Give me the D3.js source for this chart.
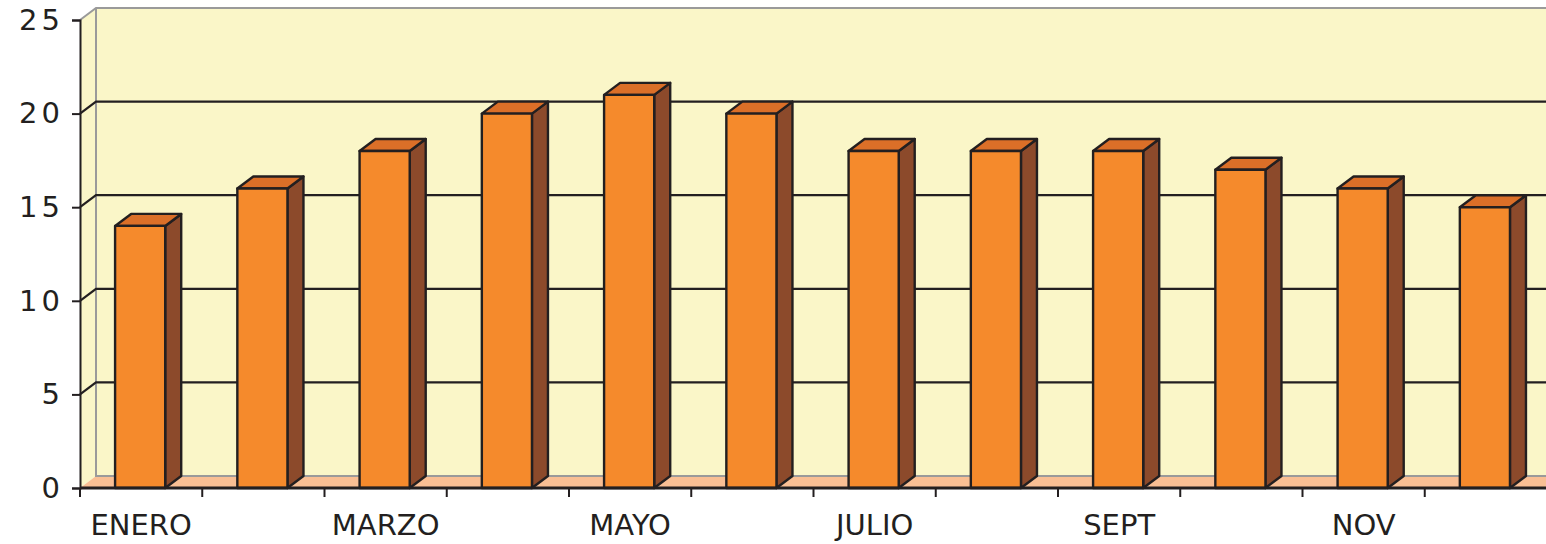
<!DOCTYPE html>
<html>
<head>
<meta charset="utf-8">
<script src="https://cdn.jsdelivr.net/npm/d3@7"></script>
<style>
  body { margin: 0; background: #fff; }
  text { font-family: "DejaVu Sans", sans-serif; fill: #231f20; }
</style>
</head>
<body>
<div id="chart"></div>
<script>
const months = ["ENERO","FEBRERO","MARZO","ABRIL","MAYO","JUNIO","JULIO","AGOSTO","SEPT","OCT","NOV","DIC"]
const values = [14, 16, 18, 20, 21, 20, 18, 18, 18, 17, 16, 15]
const yTicks = [0, 5, 10, 15, 20, 25]

const W = 1546, H = 544
const LEFT = 80, RIGHT = 1547, BASE = 488, TOP = 20
const DX = 16, DY = -12   // depth offset
const INK = "#231f20"

const svg = d3.select("#chart").append("svg")
    .attr("width", W).attr("height", H)

const x = d3.scaleBand().domain(months).range([LEFT, RIGHT]).padding(0)
const y = d3.scaleLinear().domain([0, 25]).range([BASE, TOP])

// back wall
svg.append("rect")
    .attr("x", LEFT + DX).attr("y", y(25) + DY)
    .attr("width", W - LEFT - DX).attr("height", y(0) - y(25))
    .attr("fill", "#faf6c8")

// side wall
svg.append("path")
    .attr("d", `M${LEFT},${y(0)}L${LEFT},${y(25)}L${LEFT+DX},${y(25)+DY}L${LEFT+DX},${y(0)+DY}Z`)
    .attr("fill", "#faf6c8")

// floor
svg.append("path")
    .attr("d", `M${LEFT},${y(0)}L${LEFT+DX},${y(0)+DY}L${W},${y(0)+DY}L${W},${y(0)}Z`)
    .attr("fill", "#f9bf94")

// wall edges in grey
svg.append("path")
    .attr("d", `M${LEFT},${y(25)}L${LEFT+DX},${y(25)+DY}L${W},${y(25)+DY}M${LEFT+DX},${y(25)+DY}L${LEFT+DX},${y(0)+DY}L${W},${y(0)+DY}`)
    .attr("fill", "none").attr("stroke", "#9a9a9a").attr("stroke-width", 2)

// gridlines
const grid = yTicks.filter(d => d > 0 && d < 25)
svg.append("g").selectAll("path").data(grid).enter().append("path")
    .attr("d", d => `M${LEFT},${y(d)}L${LEFT+DX},${y(d)+DY}L${W},${y(d)+DY}`)
    .attr("fill", "none").attr("stroke", INK).attr("stroke-width", 2.2)

// bars
const bw = x.bandwidth()
const off = bw * 0.287, fw = bw * 0.41
const bars = svg.append("g").selectAll("g").data(values).enter().append("g")
    .attr("stroke", INK).attr("stroke-width", 2.4).attr("stroke-linejoin", "round")

bars.append("path")
    .attr("fill", "#8c4a2b")
    .attr("d", (d, i) => {
        const x1 = x(months[i]) + off + fw
        return `M${x1},${y(d)}L${x1+DX},${y(d)+DY}L${x1+DX},${y(0)+DY}L${x1},${y(0)}Z`
    })
bars.append("path")
    .attr("fill", "#db6f28")
    .attr("d", (d, i) => {
        const x0 = x(months[i]) + off
        return `M${x0},${y(d)}L${x0+DX},${y(d)+DY}L${x0+fw+DX},${y(d)+DY}L${x0+fw},${y(d)}Z`
    })
bars.append("rect")
    .attr("fill", "#f58a2c")
    .attr("x", (d, i) => x(months[i]) + off)
    .attr("y", d => y(d))
    .attr("width", fw)
    .attr("height", d => y(0) - y(d))

// y axis
const yAxis = svg.append("g")
    .attr("transform", `translate(${LEFT},0)`)
    .call(d3.axisLeft(y).tickValues(yTicks).tickSize(8).tickPadding(8))
yAxis.select(".domain").attr("stroke", INK).attr("stroke-width", 2)
yAxis.selectAll(".tick line").attr("stroke", INK).attr("stroke-width", 2)
yAxis.selectAll(".tick text")
    .style("font-size", "29px").style("letter-spacing", "4px")
    .attr("fill", INK)

// x axis: baseline, ticks at band edges, labels every other month
svg.append("line")
    .attr("x1", LEFT).attr("x2", W).attr("y1", BASE).attr("y2", BASE)
    .attr("stroke", INK).attr("stroke-width", 3)
svg.append("g").selectAll("line").data(months).enter().append("line")
    .attr("x1", d => x(d)).attr("x2", d => x(d))
    .attr("y1", BASE).attr("y2", BASE + 9)
    .attr("stroke", INK).attr("stroke-width", 2)

svg.append("g").selectAll("text").data(months.filter((d, i) => i % 2 === 0)).enter().append("text")
    .attr("x", d => x(d) + bw / 2)
    .attr("y", 535)
    .attr("text-anchor", "middle")
    .style("font-size", "29px")
    .text(d => d)
</script>
</body>
</html>
